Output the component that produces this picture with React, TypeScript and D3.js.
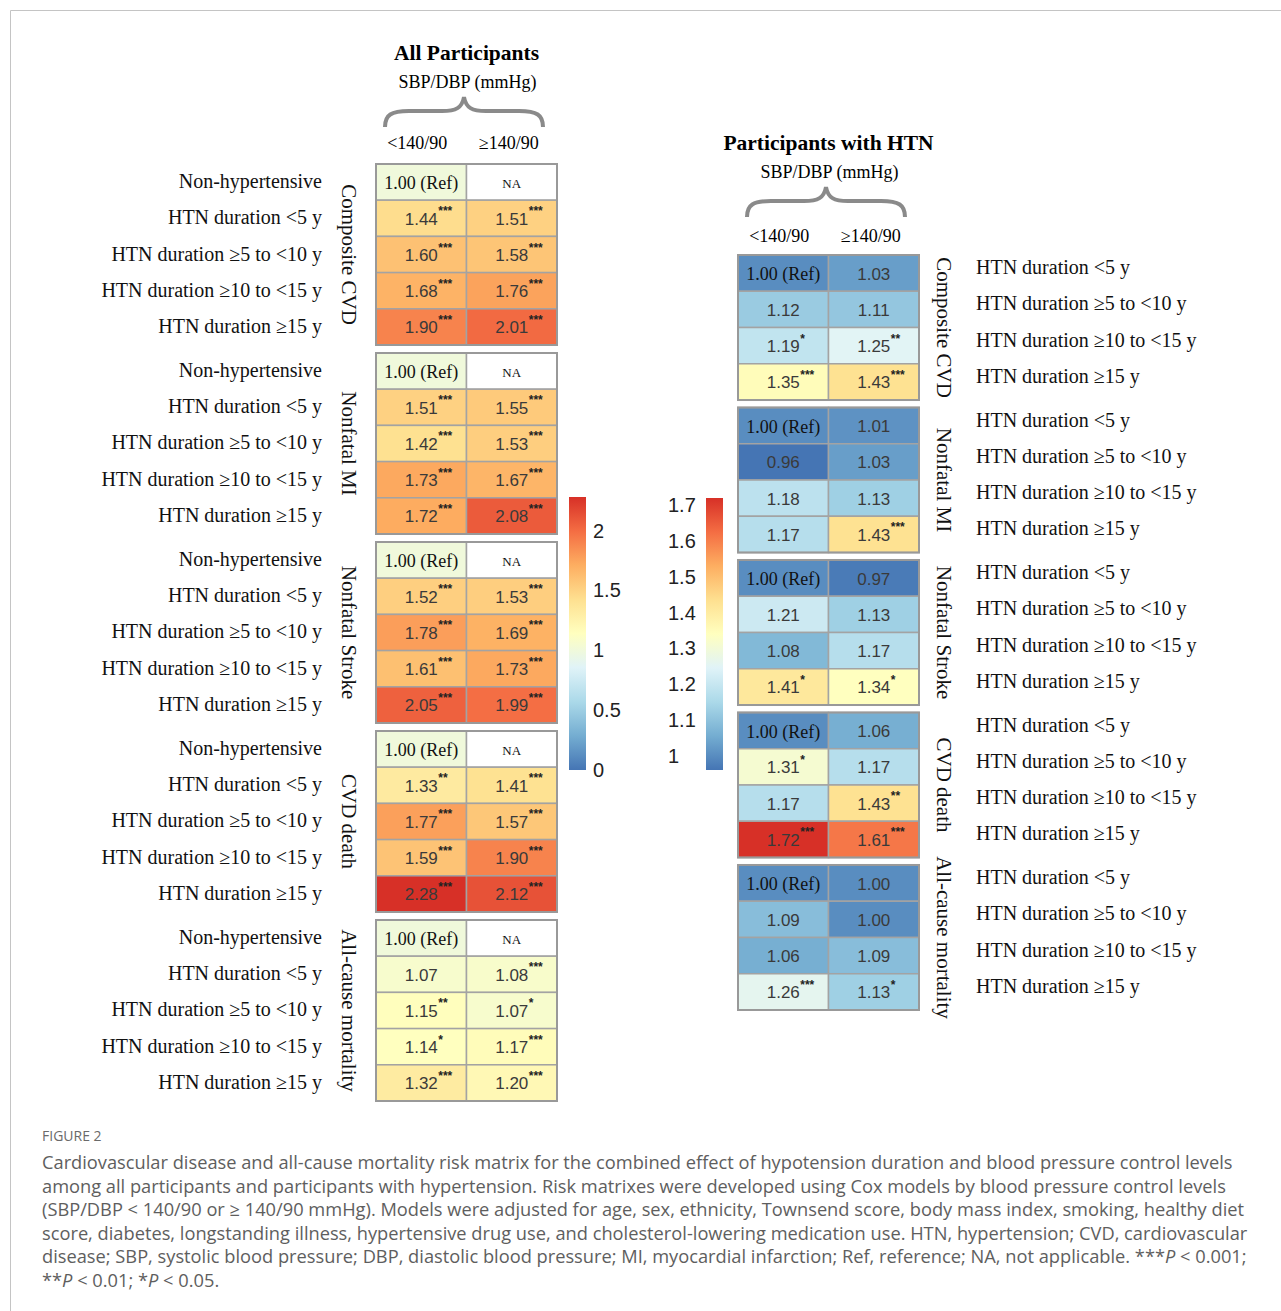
import React, { useEffect, useRef } from 'react'
import * as d3 from 'd3'

// outcomes and row labels
const outcomes = ['Composite CVD', 'Nonfatal MI', 'Nonfatal Stroke', 'CVD death', 'All-cause mortality']
const bpLevels = ['<140/90', '≥140/90']
const allRows = ['Non-hypertensive', 'HTN duration <5 y', 'HTN duration ≥5 to <10 y', 'HTN duration ≥10 to <15 y', 'HTN duration ≥15 y']
const htnRows = ['HTN duration <5 y', 'HTN duration ≥5 to <10 y', 'HTN duration ≥10 to <15 y', 'HTN duration ≥15 y']

// all participants, hazard ratios (null = NA)
const allLowHR = [
  [1.00, 1.44, 1.60, 1.68, 1.90],
  [1.00, 1.51, 1.42, 1.73, 1.72],
  [1.00, 1.52, 1.78, 1.61, 2.05],
  [1.00, 1.33, 1.77, 1.59, 2.28],
  [1.00, 1.07, 1.15, 1.14, 1.32]
]
const allHighHR = [
  [null, 1.51, 1.58, 1.76, 2.01],
  [null, 1.55, 1.53, 1.67, 2.08],
  [null, 1.53, 1.69, 1.73, 1.99],
  [null, 1.41, 1.57, 1.90, 2.12],
  [null, 1.08, 1.07, 1.17, 1.20]
]
const allLowSig = [
  ['', '***', '***', '***', '***'],
  ['', '***', '***', '***', '***'],
  ['', '***', '***', '***', '***'],
  ['', '**', '***', '***', '***'],
  ['', '', '**', '*', '***']
]
const allHighSig = [
  ['', '***', '***', '***', '***'],
  ['', '***', '***', '***', '***'],
  ['', '***', '***', '***', '***'],
  ['', '***', '***', '***', '***'],
  ['', '***', '*', '***', '***']
]

// participants with HTN
const htnLowHR = [
  [1.00, 1.12, 1.19, 1.35],
  [1.00, 0.96, 1.18, 1.17],
  [1.00, 1.21, 1.08, 1.41],
  [1.00, 1.31, 1.17, 1.72],
  [1.00, 1.09, 1.06, 1.26]
]
const htnHighHR = [
  [1.03, 1.11, 1.25, 1.43],
  [1.01, 1.03, 1.13, 1.43],
  [0.97, 1.13, 1.17, 1.34],
  [1.06, 1.17, 1.43, 1.61],
  [1.00, 1.00, 1.09, 1.13]
]
const htnLowSig = [
  ['', '', '*', '***'],
  ['', '', '', ''],
  ['', '', '', '*'],
  ['', '*', '', '***'],
  ['', '', '', '***']
]
const htnHighSig = [
  ['', '', '**', '***'],
  ['', '', '', '***'],
  ['', '', '', '*'],
  ['', '', '**', '***'],
  ['', '', '', '*']
]

const allTicks = [0, 0.5, 1, 1.5, 2]
const htnTicks = [1, 1.1, 1.2, 1.3, 1.4, 1.5, 1.6, 1.7]

const captionLines = [
  'Cardiovascular disease and all-cause mortality risk matrix for the combined effect of hypotension duration and blood pressure control levels',
  'among all participants and participants with hypertension. Risk matrixes were developed using Cox models by blood pressure control levels',
  '(SBP/DBP < 140/90 or ≥ 140/90 mmHg). Models were adjusted for age, sex, ethnicity, Townsend score, body mass index, smoking, healthy diet',
  'score, diabetes, longstanding illness, hypertensive drug use, and cholesterol-lowering medication use. HTN, hypertension; CVD, cardiovascular',
  'disease; SBP, systolic blood pressure; DBP, diastolic blood pressure; MI, myocardial infarction; Ref, reference; NA, not applicable. ***|P| < 0.001;',
  '**|P| < 0.01; *|P| < 0.05.'
]

const serif = '"Liberation Serif", "Times New Roman", serif'
const sans = '"Liberation Sans", Arial, sans-serif'
const capFont = '"Open Sans", sans-serif'

const palette = d3.schemeRdYlBu[9].slice().reverse()
const fmt = d3.format('.2f')

function bracePath (x0, x1, yb, yt) {
  const xm = (x0 + x1) / 2
  const ym = yb - 16
  return `M${x0},${yb} C${x0},${ym + 4} ${x0 + 6},${ym} ${x0 + 24},${ym}
    L${xm - 22},${ym} C${xm - 8},${ym} ${xm - 2},${ym - 3} ${xm},${yt}
    C${xm + 2},${ym - 3} ${xm + 8},${ym} ${xm + 22},${ym}
    L${x1 - 24},${ym} C${x1 - 6},${ym} ${x1},${ym + 4} ${x1},${yb}`
}

function drawMatrix (g, o) {
  const x = d3.scaleBand().domain(bpLevels).range([o.x0, o.x1])
  const blocks = d3.scaleBand().domain(outcomes).range([o.top, o.bottom]).paddingInner(o.pad)
  const y = d3.scaleBand().domain(o.rows).range([0, blocks.bandwidth()])

  outcomes.forEach((name, bi) => {
    const bg = g.append('g').attr('transform', `translate(0, ${blocks(name)})`)
    const cells = []
    o.rows.forEach((r, ri) => {
      cells.push({ r, col: bpLevels[0], v: o.low[bi][ri], sig: o.lowSig[bi][ri], ref: ri === 0 })
      cells.push({ r, col: bpLevels[1], v: o.high[bi][ri], sig: o.highSig[bi][ri], ref: false })
    })

    bg.selectAll('rect.cell')
      .data(cells)
      .enter()
      .append('rect')
        .attr('class', 'cell')
        .attr('x', d => x(d.col))
        .attr('y', d => y(d.r))
        .attr('width', x.bandwidth())
        .attr('height', y.bandwidth())
        .attr('fill', d => d.v == null ? '#ffffff' : o.color(d.v))
        .attr('stroke', '#a3a3a3')
        .attr('stroke-width', 1.5)

    bg.selectAll('text.val')
      .data(cells)
      .enter()
      .append('text')
        .attr('class', 'val')
        .attr('x', d => x(d.col) + x.bandwidth() / 2)
        .attr('y', d => y(d.r) + y.bandwidth() / 2 + 1)
        .attr('text-anchor', 'middle')
        .attr('dominant-baseline', 'central')
        .attr('fill', d => d.v == null || d.ref ? '#111' : '#3a3a3a')
        .style('font-family', d => d.v == null || d.ref ? serif : sans)
        .style('font-size', d => d.v == null ? '13px' : d.ref ? '18px' : '17px')
        .text(d => d.v == null ? 'NA' : d.ref ? '1.00 (Ref)' : fmt(d.v))

    bg.selectAll('text.sig')
      .data(cells.filter(d => d.sig))
      .enter()
      .append('text')
        .attr('class', 'sig')
        .attr('x', d => x(d.col) + x.bandwidth() / 2 + 17)
        .attr('y', d => y(d.r) + y.bandwidth() / 2 - 3)
        .attr('fill', '#222')
        .style('font-family', sans)
        .style('font-size', '12px')
        .style('font-weight', 'bold')
        .text(d => d.sig)

    bg.append('rect')
      .attr('x', o.x0)
      .attr('y', 0)
      .attr('width', o.x1 - o.x0)
      .attr('height', blocks.bandwidth())
      .attr('fill', 'none')
      .attr('stroke', '#999')
      .attr('stroke-width', 2)

    bg.selectAll('text.row')
      .data(o.rows)
      .enter()
      .append('text')
        .attr('class', 'row')
        .attr('x', o.labelX)
        .attr('y', d => y(d) + y.bandwidth() / 2 + o.labelDy)
        .attr('text-anchor', o.labelAnchor)
        .attr('dominant-baseline', 'central')
        .attr('fill', '#111')
        .style('font-family', serif)
        .style('font-size', '20px')
        .text(d => d)

    bg.append('text')
      .attr('transform', `translate(${o.groupX}, ${blocks.bandwidth() / 2}) rotate(90)`)
      .attr('text-anchor', 'middle')
      .attr('dominant-baseline', 'central')
      .attr('fill', '#111')
      .style('font-family', serif)
      .style('font-size', '21px')
      .text(name)
  })

  // header
  const cx = (o.x0 + o.x1) / 2
  g.append('text')
    .attr('x', cx).attr('y', o.headY)
    .attr('text-anchor', 'middle').attr('dominant-baseline', 'central')
    .style('font-family', serif).style('font-size', '21.5px').style('font-weight', 'bold')
    .text(o.title)
  g.append('text')
    .attr('x', cx + 1).attr('y', o.headY + 29)
    .attr('text-anchor', 'middle').attr('dominant-baseline', 'central')
    .style('font-family', serif).style('font-size', '18px')
    .text('SBP/DBP (mmHg)')
  g.append('path')
    .attr('d', bracePath(o.x0 + 9, o.x1 - 14, o.headY + 74, o.headY + 44))
    .attr('fill', 'none')
    .attr('stroke', '#8a8a8a')
    .attr('stroke-width', 4)
  g.selectAll('text.col')
    .data(bpLevels)
    .enter()
    .append('text')
      .attr('class', 'col')
      .attr('x', d => x(d) + x.bandwidth() / 2 + (d === bpLevels[0] ? -4 : -3))
      .attr('y', o.headY + o.colDy)
      .attr('text-anchor', 'middle').attr('dominant-baseline', 'central')
      .style('font-family', serif).style('font-size', '18px')
      .text(d => d)
}

function drawColorbar (g, o) {
  const id = `grad-${o.id}`
  const grad = g.append('defs').append('linearGradient')
    .attr('id', id).attr('x1', 0).attr('y1', 1).attr('x2', 0).attr('y2', 0)
  palette.forEach((c, i) => {
    grad.append('stop').attr('offset', i / (palette.length - 1)).attr('stop-color', c)
  })
  g.append('rect')
    .attr('x', o.x).attr('y', o.top)
    .attr('width', 17).attr('height', o.bottom - o.top)
    .attr('fill', `url(#${id})`)
  const y = d3.scaleLinear().domain(o.domain).range([o.bottom, o.top])
  g.selectAll(`text.tick-${o.id}`)
    .data(o.ticks)
    .enter()
    .append('text')
      .attr('x', o.labelX)
      .attr('y', d => y(d))
      .attr('dominant-baseline', 'central')
      .attr('fill', '#222')
      .style('font-family', sans)
      .style('font-size', '20px')
      .text(d => d)
}

export default function App () {
  const svgRef = useRef(null)

  useEffect(() => {
    const svg = d3.select(svgRef.current)
    svg.selectAll('*').remove()

    svg.append('path')
      .attr('d', 'M10.5,1311 L10.5,10.5 L1281,10.5')
      .attr('fill', 'none')
      .attr('stroke', '#c4c4c4')
      .attr('stroke-width', 1)

    const allMax = d3.max(allLowHR.flat().concat(allHighHR.flat().filter(v => v != null)))
    const htnExt = d3.extent(htnLowHR.flat().concat(htnHighHR.flat()))
    const interp = d3.piecewise(d3.interpolateRgb, palette)
    const allColor = d3.scaleSequential(interp).domain([0, allMax])
    const htnColor = d3.scaleSequential(interp).domain(htnExt)

    drawMatrix(svg.append('g'), {
      x0: 376, x1: 557, top: 164, bottom: 1101, pad: 0.0423,
      rows: allRows, low: allLowHR, high: allHighHR, lowSig: allLowSig, highSig: allHighSig,
      color: allColor,
      labelX: 322, labelAnchor: 'end', labelDy: -1, groupX: 349,
      title: 'All Participants', headY: 53, colDy: 90
    })

    drawMatrix(svg.append('g'), {
      x0: 738, x1: 919, top: 255, bottom: 1010, pad: 0.049,
      rows: htnRows, low: htnLowHR, high: htnHighHR, lowSig: htnLowSig, highSig: htnHighSig,
      color: htnColor,
      labelX: 976, labelAnchor: 'start', labelDy: -6, groupX: 944,
      title: 'Participants with HTN', headY: 143, colDy: 93
    })

    drawColorbar(svg.append('g'), { id: 'all', x: 569, top: 497, bottom: 770, domain: [0, allMax], ticks: allTicks, labelX: 593 })
    drawColorbar(svg.append('g'), { id: 'htn', x: 706, top: 498, bottom: 770, domain: htnExt, ticks: htnTicks, labelX: 668 })

    // caption
    svg.append('text')
      .attr('x', 42).attr('y', 1135)
      .attr('dominant-baseline', 'central')
      .attr('fill', '#6a6a6a')
      .style('font-family', capFont).style('font-size', '14px')
      .text('FIGURE 2')

    const cap = svg.append('g')
    captionLines.forEach((line, i) => {
      const t = cap.append('text')
        .attr('x', 42).attr('y', 1161 + i * 23.6)
        .attr('dominant-baseline', 'central')
        .attr('fill', '#5e5e5e')
        .style('font-family', capFont).style('font-size', '18.25px')
      line.split('|').forEach((part, j) => {
        t.append('tspan')
          .style('font-style', j % 2 === 1 ? 'italic' : 'normal')
          .text(part)
      })
    })
  }, [])

  return (
    <svg ref={svgRef} width={1281} height={1311}
      style={{ position: 'absolute', left: 0, top: 0, background: '#fff' }} />
  )
}
